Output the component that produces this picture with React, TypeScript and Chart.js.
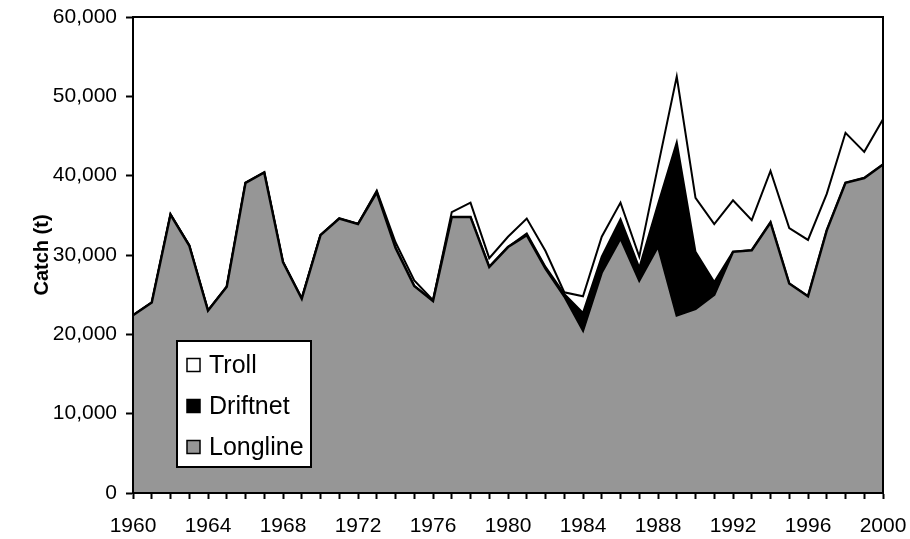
import React, { useEffect, useRef } from "react";
import { Chart, registerables } from "chart.js";

Chart.register(...registerables);

const years: number[] = [
  1960, 1961, 1962, 1963, 1964, 1965, 1966, 1967, 1968, 1969,
  1970, 1971, 1972, 1973, 1974, 1975, 1976, 1977, 1978, 1979,
  1980, 1981, 1982, 1983, 1984, 1985, 1986, 1987, 1988, 1989,
  1990, 1991, 1992, 1993, 1994, 1995, 1996, 1997, 1998, 1999, 2000,
];

const longline: number[] = [
  22400, 24000, 35100, 31200, 23000, 26000, 39100, 40400, 29100, 24500,
  32500, 34600, 33900, 37900, 30900, 26100, 24200, 34800, 34800, 28500,
  31000, 32500, 28300, 24800, 20500, 27800, 32100, 26800, 31100, 22400,
  23200, 25000, 30400, 30600, 34100, 26400, 24800, 33100, 39100, 39700, 41400,
];

const driftnet: number[] = [
  0, 0, 0, 0, 0, 0, 0, 0, 0, 0,
  0, 0, 0, 0, 0, 0, 0, 0, 0, 0,
  0, 200, 200, 300, 2200, 2000, 2400, 1600, 5300, 21800,
  7200, 1600, 0, 0, 0, 0, 0, 0, 0, 0, 0,
];

const troll: number[] = [
  0, 0, 0, 0, 0, 0, 0, 0, 0, 0,
  0, 0, 0, 200, 700, 700, 100, 600, 1800, 1100,
  1300, 1900, 2000, 200, 2100, 2500, 2100, 1400, 4800, 8300,
  6800, 7300, 6500, 3800, 6500, 7000, 7100, 4600, 6300, 3300, 5700,
];

const yTicks: number[] = [0, 10000, 20000, 30000, 40000, 50000, 60000];
const labelEvery = 4;

const FONT = 'Arial, "Liberation Sans", sans-serif';

const framePlugin = {
  id: "frameAndLegend",
  afterDraw(chart: any) {
    const { ctx, chartArea } = chart;
    const { left, top, right, bottom } = chartArea;
    ctx.save();
    ctx.strokeStyle = "#000";
    ctx.lineWidth = 2;
    ctx.strokeRect(left, top, right - left, bottom - top);

    // legend box
    const bx = left + 44;
    const by = top + 324;
    const bw = 134;
    const bh = 126;
    ctx.fillStyle = "#fff";
    ctx.fillRect(bx, by, bw, bh);
    ctx.lineWidth = 2;
    ctx.strokeRect(bx, by, bw, bh);

    const items = chart.data.datasets.slice().reverse();
    ctx.font = `25px ${FONT}`;
    ctx.textBaseline = "middle";
    ctx.textAlign = "left";
    items.forEach((ds: any, i: number) => {
      const cy = by + 24 + i * 41;
      const sq = 13;
      ctx.fillStyle = ds.backgroundColor;
      ctx.fillRect(bx + 10, cy - sq / 2, sq, sq);
      ctx.lineWidth = 1.5;
      ctx.strokeStyle = "#000";
      ctx.strokeRect(bx + 10, cy - sq / 2, sq, sq);
      ctx.fillStyle = "#000";
      ctx.fillText(ds.label, bx + 32, cy + 1);
    });
    ctx.restore();
  },
};

export default function App() {
  const canvasRef = useRef<HTMLCanvasElement | null>(null);

  useEffect(() => {
    if (!canvasRef.current) return;
    const chart = new Chart(canvasRef.current, {
      type: "line",
      data: {
        labels: years.map(String),
        datasets: [
          {
            label: "Longline",
            data: longline,
            backgroundColor: "#969696",
            borderColor: "#000",
            borderWidth: 2.5,
            fill: "origin",
            pointRadius: 0,
            tension: 0,
          },
          {
            label: "Driftnet",
            data: driftnet,
            backgroundColor: "#000000",
            borderColor: "#000",
            borderWidth: 2,
            fill: "-1",
            pointRadius: 0,
            tension: 0,
          },
          {
            label: "Troll",
            data: troll,
            backgroundColor: "#ffffff",
            borderColor: "#000",
            borderWidth: 2,
            fill: "-1",
            pointRadius: 0,
            tension: 0,
          },
        ],
      },
      options: {
        animation: false,
        responsive: false,
        layout: { padding: { left: 0, top: 17, right: 27, bottom: 0 } },
        plugins: {
          legend: { display: false },
          tooltip: { enabled: false },
        },
        scales: {
          x: {
            type: "category",
            offset: false,
            grid: {
              drawOnChartArea: false,
              drawTicks: true,
              tickLength: 6,
              tickWidth: 2,
              tickColor: "#000",
            },
            border: { display: true, color: "#000", width: 2 },
            ticks: {
              autoSkip: false,
              maxRotation: 0,
              minRotation: 0,
              padding: 15,
              color: "#000",
              font: { family: FONT, size: 21 },
              callback: (_v: any, i: number) =>
                years[i] % labelEvery === 0 ? String(years[i]) : "",
            },
            afterFit: (scale: any) => {
              scale.height = 46;
              scale.paddingLeft = 0;
              scale.paddingRight = 0;
            },
          },
          y: {
            stacked: true,
            min: yTicks[0],
            max: yTicks[yTicks.length - 1],
            grid: {
              drawOnChartArea: false,
              drawTicks: true,
              tickLength: 7,
              tickWidth: 2,
              tickColor: "#000",
            },
            border: { display: true, color: "#000", width: 2 },
            afterBuildTicks: (scale: any) => {
              scale.ticks = yTicks.map((v) => ({ value: v }));
            },
            ticks: {
              padding: 9,
              color: "#000",
              font: { family: FONT, size: 21 },
              callback: (v: any) => Number(v).toLocaleString("en-US"),
            },
            title: {
              display: true,
              text: "Catch (t)",
              color: "#000",
              font: { family: FONT, size: 20, weight: "bold" },
              padding: { top: 30, bottom: 0 },
            },
            afterFit: (scale: any) => {
              scale.width = 133;
              scale.paddingTop = 0;
              scale.paddingBottom = 0;
            },
          },
        },
      },
      plugins: [framePlugin],
    });
    return () => chart.destroy();
  }, []);

  return (
    <div style={{ position: "absolute", left: 0, top: 0, width: 910, height: 539 }}>
      <canvas ref={canvasRef} width={910} height={539} />
    </div>
  );
}
